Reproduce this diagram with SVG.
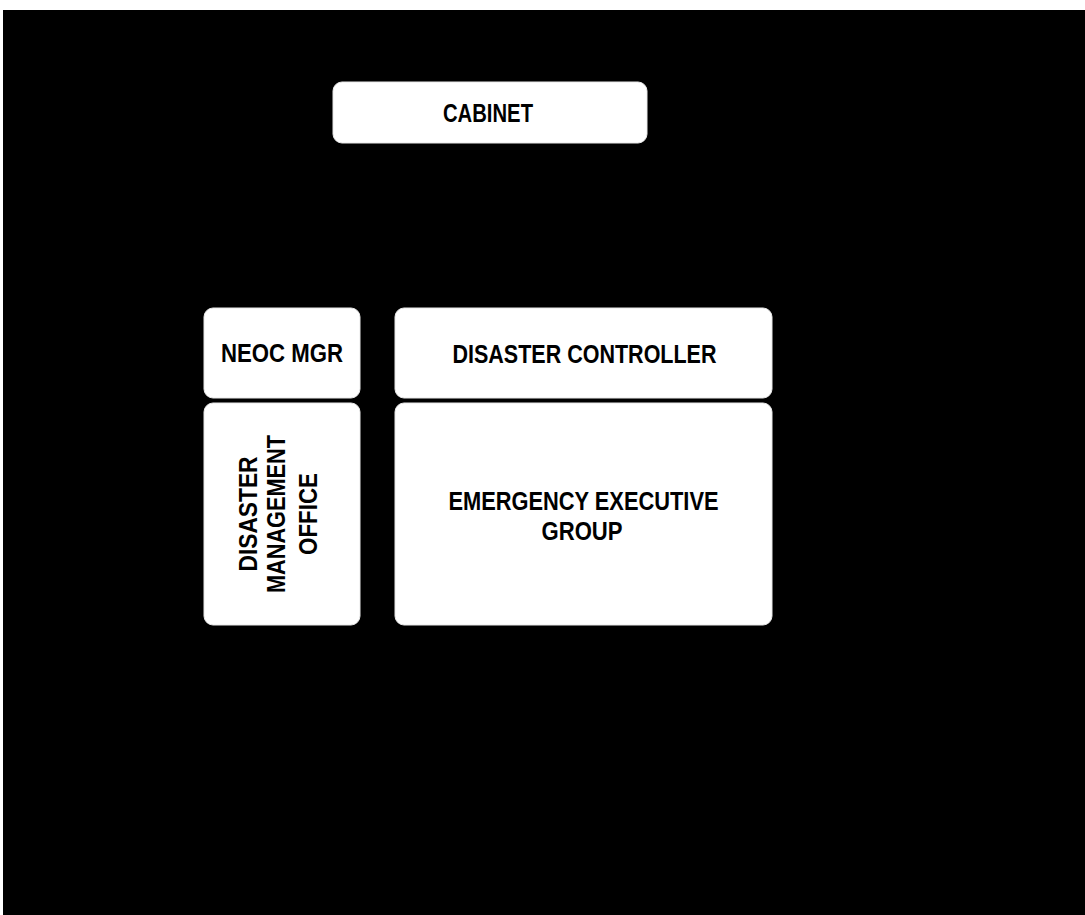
<svg xmlns="http://www.w3.org/2000/svg" width="1085" height="915" viewBox="0 0 1085 915">
  <style>
    .box { fill: #ffffff; stroke: #e8e8e8; stroke-width: 1; }
    .lbl { font-family: "Liberation Sans Narrow", "Liberation Sans", Arial, sans-serif; font-weight: bold; font-size: 25px; fill: #000000; }
  </style>
  <rect x="0" y="0" width="1085" height="915" fill="#ffffff"/>
  <rect x="3" y="10" width="1082" height="905" fill="#000000"/>
  <g id="connectors"></g>
  <g id="cabinet">
    <rect class="box" x="333" y="82" width="314" height="61" rx="9"/>
    <text class="lbl" x="488" y="122" text-anchor="middle" textLength="90" lengthAdjust="spacingAndGlyphs">CABINET</text>
  </g>
  <g id="neoc-mgr">
    <rect class="box" x="204" y="308" width="156" height="90" rx="9"/>
    <text class="lbl" x="282" y="362" text-anchor="middle" textLength="122" lengthAdjust="spacingAndGlyphs">NEOC MGR</text>
  </g>
  <g id="disaster-controller">
    <rect class="box" x="395" y="308" width="377" height="90" rx="9"/>
    <text class="lbl" x="584.5" y="363" text-anchor="middle" textLength="264" lengthAdjust="spacingAndGlyphs">DISASTER CONTROLLER</text>
  </g>
  <g id="disaster-management-office">
    <rect class="box" x="204" y="403" width="156" height="222" rx="9"/>
    <g transform="translate(0,514) rotate(-90)">
      <text class="lbl" x="0" y="256.5" text-anchor="middle" textLength="115" lengthAdjust="spacingAndGlyphs">DISASTER</text>
      <text class="lbl" x="0" y="285" text-anchor="middle" textLength="158" lengthAdjust="spacingAndGlyphs">MANAGEMENT</text>
      <text class="lbl" x="0" y="316.5" text-anchor="middle" textLength="82" lengthAdjust="spacingAndGlyphs">OFFICE</text>
    </g>
  </g>
  <g id="emergency-executive-group">
    <rect class="box" x="395" y="403" width="377" height="222" rx="9"/>
    <text class="lbl" x="583.5" y="510" text-anchor="middle" textLength="270" lengthAdjust="spacingAndGlyphs">EMERGENCY EXECUTIVE</text>
    <text class="lbl" x="582" y="540" text-anchor="middle" textLength="81" lengthAdjust="spacingAndGlyphs">GROUP</text>
  </g>
</svg>
